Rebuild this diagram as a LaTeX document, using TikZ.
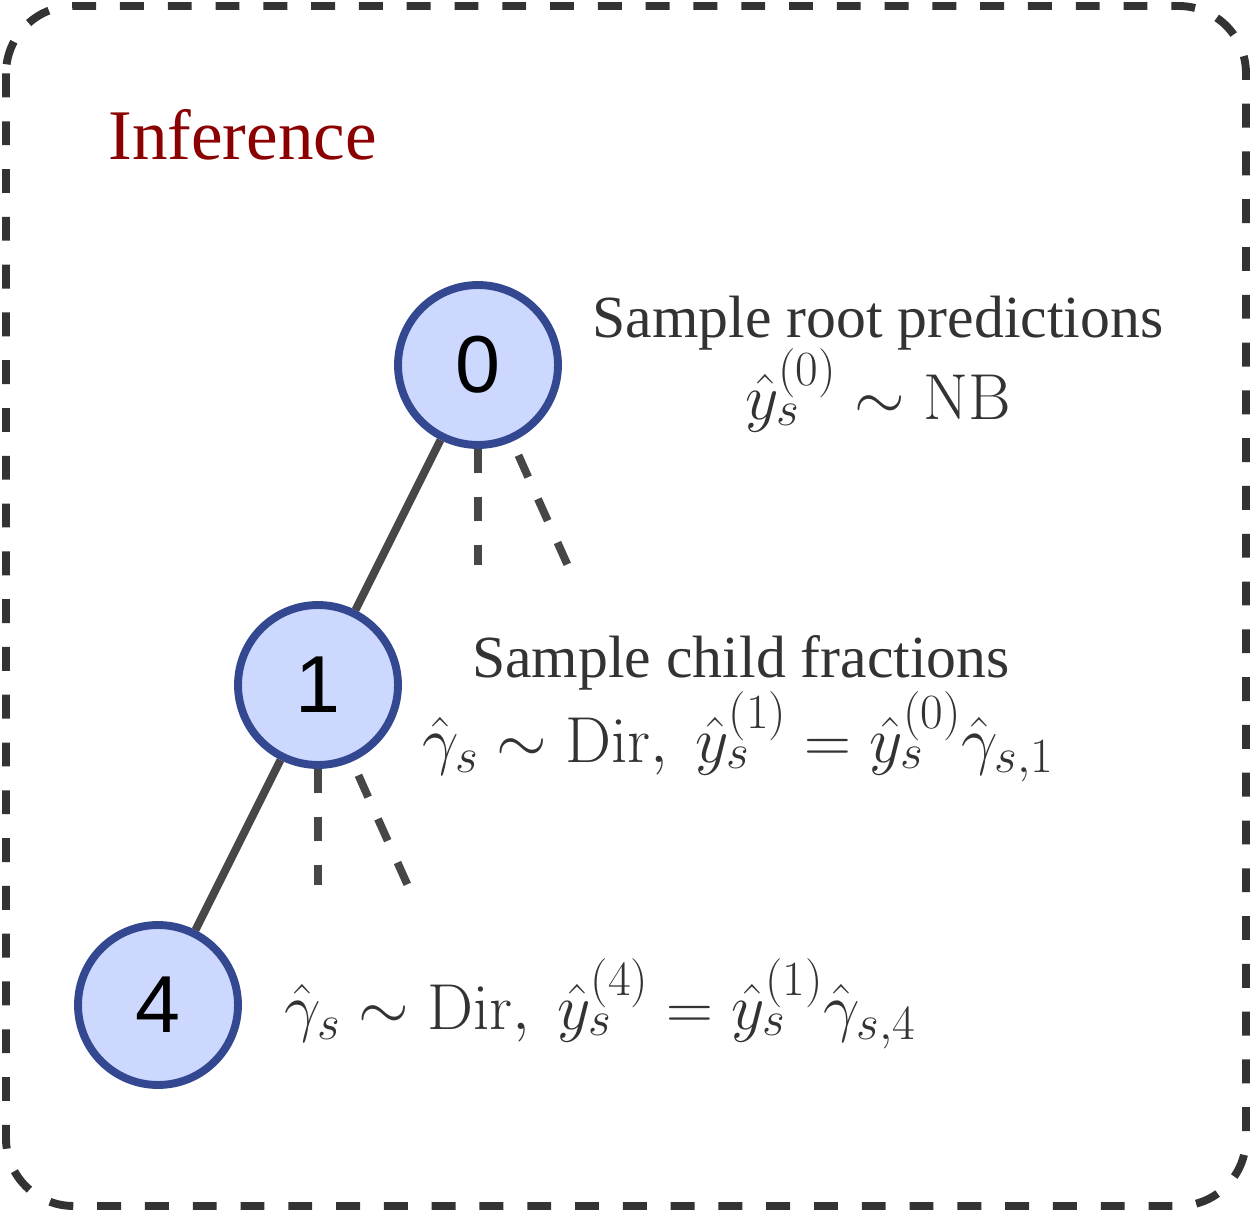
\RequirePackage{fix-cm}
\documentclass[tikz,border=0pt]{standalone}
\usepackage{amsmath}
\usepackage[no-math]{fontspec}
\setmainfont{Liberation Serif}
\newfontfamily\digitfont{Liberation Sans}
\DeclareMathSizes{37}{37}{28}{21}
\definecolor{nodefill}{HTML}{CCD8FE}
\definecolor{nodeline}{HTML}{334890}
\definecolor{edgegray}{HTML}{474747}
\definecolor{boxgray}{HTML}{333333}
\definecolor{textgray}{HTML}{333333}
\definecolor{titlered}{HTML}{8B0000}
\begin{document}
\begin{tikzpicture}[x=0.02cm,y=-0.02cm,
  treenode/.style={circle, draw=nodeline, fill=nodefill, line width=4.5pt,
    minimum size=3.2cm, inner sep=0pt, text=black,
    font=\digitfont\fontsize{46}{46}\selectfont},
  edge/.style={draw=edgegray, line width=4.5pt},
  dashedge/.style={draw=edgegray, line width=4.5pt, dash pattern=on 13.6pt off 13.6pt},
  boxline/.style={draw=boxgray, line width=4.5pt, dash pattern=on 13.6pt off 13.6pt, rounded corners=1.35cm},
  labeltext/.style={inner sep=0pt, text=textgray, font=\fontsize{34}{40}\selectfont},
  labelmath/.style={inner sep=0pt, text=textgray, font=\fontsize{37}{44}\selectfont},
  titletext/.style={inner sep=0pt, text=titlered, font=\fontsize{40.5}{48}\selectfont}]
\useasboundingbox (0,0) rectangle (1252,1212);
\draw[boxline] (6,6) rectangle (1246,1206);

\node[titletext, anchor=base west] (title) at (108,160) {Inference};

\node[treenode] (n0) at (478,365) {0};
\node[treenode] (n1) at (318,685) {1};
\node[treenode] (n4) at (158,1005) {4};

\coordinate (d0a) at (478,565);
\coordinate (d0b) at (568,566);
\coordinate (d1a) at (318,885);
\coordinate (d1b) at (408,886);

\draw[edge] (n0) -- (n1);
\draw[edge] (n1) -- (n4);
\draw[dashedge] (n0) -- (d0a);
\draw[dashedge, shorten <=0.3cm] (n0) -- (d0b);
\draw[dashedge] (n1) -- (d1a);
\draw[dashedge, shorten <=0.3cm] (n1) -- (d1b);

\node[labeltext, anchor=base] (l0a) at (878,338) {Sample root predictions};
\node[labelmath, anchor=base] (l0b) at (878,420) {$\hat{y}_s^{(0)} \sim \mathrm{NB}$};
\node[labeltext, anchor=base] (l1a) at (741,678) {Sample child fractions};
\node[labelmath, anchor=base] (l1b) at (738,763) {$\hat{\gamma}_s \sim \mathrm{Dir},\ \hat{y}_s^{(1)} = \hat{y}_s^{(0)}\hat{\gamma}_{s,1}$};
\node[labelmath, anchor=base] (l4) at (600,1030) {$\hat{\gamma}_s \sim \mathrm{Dir},\ \hat{y}_s^{(4)} = \hat{y}_s^{(1)}\hat{\gamma}_{s,4}$};
\end{tikzpicture}
\end{document}
